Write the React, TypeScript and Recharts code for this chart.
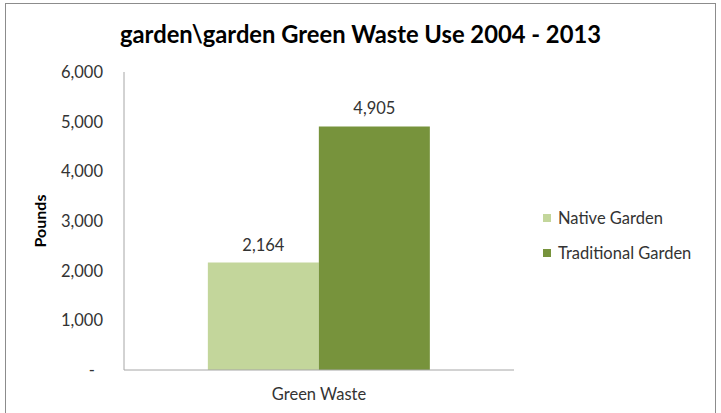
import React from 'react';
import { BarChart, Bar, XAxis, YAxis, LabelList, Label } from 'recharts';

const categories = ['Green Waste'];
const nativeGarden = [2164];
const traditionalGarden = [4905];
const yTicks = [0, 1000, 2000, 3000, 4000, 5000, 6000];

const data = categories.map((name, i) => ({
  name,
  native: nativeGarden[i],
  traditional: traditionalGarden[i],
}));

const FONT = 'Lato, "Open Sans", sans-serif';
const FS = 16.5;

const fmt = (v: number) => v.toLocaleString('en-US');

const YTick = (props: any) => {
  const { x, y, payload } = props;
  const zero = payload.value === 0;
  return (
    <text x={zero ? x - 8 : x} y={y} dy={6} textAnchor="end" fontSize={FS} fill="#333" fontFamily={FONT}>
      {zero ? '-' : fmt(payload.value)}
    </text>
  );
};

const legendItems = [
  { label: 'Native Garden', color: '#c3d69b' },
  { label: 'Traditional Garden', color: '#77933c' },
];

const App = () => {
  return (
    <div style={{ position: 'absolute', left: 0, top: 0, width: 721, height: 413, overflow: 'hidden', background: '#fff' }}>
      <div
        style={{
          position: 'absolute',
          left: 5,
          top: 3,
          width: 709,
          height: 430,
          border: '1px solid #8c8c8c',
        }}
      />
      <div
        style={{
          position: 'absolute',
          top: 20,
          left: 0,
          width: 721,
          textAlign: 'center',
          fontFamily: FONT,
          fontWeight: 'bold',
          fontSize: 23.75,
          color: '#000',
        }}
      >
        garden\garden Green Waste Use 2004 - 2013
      </div>
      <div style={{ position: 'absolute', left: 0, top: 0 }}>
        <BarChart
          width={721}
          height={413}
          data={data}
          margin={{ top: 72, right: 207, left: 0, bottom: 0 }}
          barCategoryGap="21.5%"
          barGap={0}
        >
          <XAxis
            dataKey="name"
            axisLine={{ stroke: '#a6a6a6' }}
            tickLine={false}
            tick={{ fontSize: FS, fill: '#333', fontFamily: FONT }}
            tickMargin={12}
            height={43}
          />
          <YAxis
            domain={[0, 6000]}
            ticks={yTicks}
            width={124}
            axisLine={{ stroke: '#a6a6a6' }}
            tickLine={false}
            tick={<YTick />}
            tickMargin={15}
            interval={0}
          >
            <Label
              value="Pounds"
              angle={-90}
              position="insideLeft"
              offset={40}
              style={{ fontFamily: FONT, fontWeight: 'bold', fontSize: 16, fill: '#000', textAnchor: 'middle' }}
            />
          </YAxis>
          <Bar dataKey="native" fill="#c3d69b" isAnimationActive={false}>
            <LabelList
              dataKey="native"
              position="top"
              offset={12}
              formatter={(v: any) => fmt(Number(v))}
              style={{ fontFamily: FONT, fontSize: FS, fill: '#333' }}
            />
          </Bar>
          <Bar dataKey="traditional" fill="#77933c" isAnimationActive={false}>
            <LabelList
              dataKey="traditional"
              position="top"
              offset={12}
              formatter={(v: any) => fmt(Number(v))}
              style={{ fontFamily: FONT, fontSize: FS, fill: '#333' }}
            />
          </Bar>
        </BarChart>
      </div>
      <div style={{ position: 'absolute', left: 543, top: 200, fontFamily: FONT, fontSize: FS, color: '#333' }}>
        {legendItems.map((it) => (
          <div key={it.label} style={{ display: 'flex', alignItems: 'center', height: 35 }}>
            <span style={{ display: 'inline-block', width: 8, height: 8, background: it.color, marginRight: 7 }} />
            {it.label}
          </div>
        ))}
      </div>
    </div>
  );
};

export default App;
